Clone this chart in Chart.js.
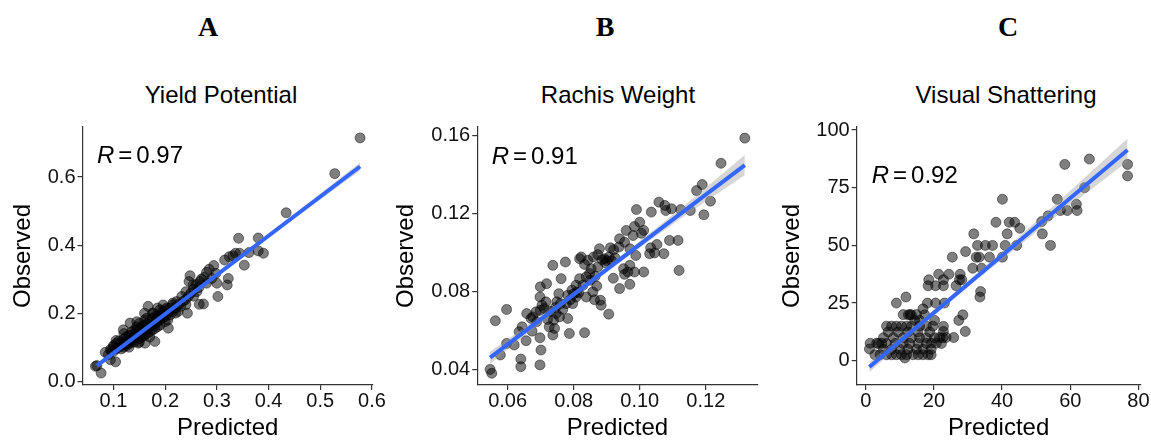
<!DOCTYPE html>
<html><head><meta charset="utf-8">
<script src="https://cdn.jsdelivr.net/npm/chart.js@4/dist/chart.umd.min.js"></script>
<style>
html,body{margin:0;padding:0;background:#fff;width:1151px;height:440px;overflow:hidden;}
.cv{position:absolute;left:0;top:0;}
.letter{position:absolute;font-family:"Liberation Serif","Times New Roman",serif;font-weight:bold;font-size:28px;line-height:28px;width:60px;text-align:center;color:#000;}
.ptitle{position:absolute;font-family:"Liberation Sans",Arial,sans-serif;font-size:24px;line-height:24px;width:300px;text-align:center;color:#000;}
</style></head><body>
<div class="letter" style="left:178px;top:12.5px">A</div>
<div class="letter" style="left:575px;top:12.5px">B</div>
<div class="letter" style="left:978px;top:12.5px">C</div>
<div class="ptitle" style="left:71px;top:83px">Yield Potential</div>
<div class="ptitle" style="left:468px;top:83px">Rachis Weight</div>
<div class="ptitle" style="left:856px;top:83px">Visual Shattering</div>
<canvas id="cA" class="cv" width="1151" height="440"></canvas>
<canvas id="cB" class="cv" width="1151" height="440"></canvas>
<canvas id="cC" class="cv" width="1151" height="440"></canvas>
<script>
// ---------- Panel A: Yield Potential ----------
const pointsA = [
[0.577,0.715],[0.528,0.610],[0.434,0.495],[0.380,0.421],[0.342,0.420],[0.390,0.376],[0.380,0.383],[0.362,0.378],[0.353,0.341],[0.344,0.376],[0.336,0.376],[0.331,0.369],[0.324,0.366],[0.315,0.356],[0.322,0.302],[0.320,0.283],[0.302,0.249],[0.300,0.288],[0.294,0.340],[0.285,0.329],[0.298,0.317],[0.290,0.302],[0.280,0.288],[0.274,0.227],[0.266,0.226],[0.261,0.263],[0.267,0.293],[0.248,0.310],[0.246,0.293],[0.254,0.283],[0.243,0.200],[0.240,0.263],[0.232,0.249],[0.222,0.234],[0.214,0.224],[0.203,0.215],[0.206,0.156],[0.190,0.210],[0.196,0.224],[0.167,0.220],[0.177,0.200],[0.184,0.185],[0.164,0.185],[0.180,0.117],[0.161,0.112],[0.148,0.112],[0.132,0.171],[0.119,0.151],[0.126,0.112],[0.106,0.112],[0.100,0.102],[0.094,0.093],[0.084,0.085],[0.094,0.063],[0.104,0.057],[0.068,0.046],[0.065,0.044],[0.076,0.024],
[0.090,0.078],[0.095,0.090],[0.100,0.088],[0.100,0.105],[0.105,0.095],[0.110,0.100],[0.110,0.118],[0.115,0.105],[0.115,0.095],[0.120,0.110],[0.120,0.125],[0.120,0.100],[0.125,0.118],[0.125,0.105],[0.130,0.120],[0.130,0.135],[0.130,0.110],[0.135,0.125],[0.135,0.145],[0.140,0.130],[0.140,0.115],[0.140,0.150],[0.145,0.135],[0.145,0.160],[0.150,0.140],[0.150,0.125],[0.150,0.155],[0.150,0.170],[0.155,0.145],[0.155,0.130],[0.160,0.150],[0.160,0.165],[0.160,0.135],[0.160,0.180],[0.165,0.155],[0.165,0.140],[0.170,0.160],[0.170,0.175],[0.170,0.145],[0.175,0.165],[0.175,0.185],[0.180,0.170],[0.180,0.155],[0.180,0.190],[0.185,0.175],[0.185,0.160],[0.190,0.180],[0.190,0.195],[0.190,0.165],[0.195,0.185],[0.195,0.205],[0.200,0.190],[0.200,0.175],[0.200,0.210],[0.205,0.200],[0.210,0.195],[0.210,0.215],[0.215,0.205],[0.220,0.215],[0.220,0.200],[0.225,0.225],[0.230,0.220],[0.235,0.235],[0.240,0.240],[0.245,0.250],[0.250,0.260],[0.255,0.270],[0.260,0.285],[0.265,0.275],[0.270,0.300],[0.275,0.305],[0.280,0.320],[0.215,0.230],[0.225,0.205],[0.205,0.180],[0.170,0.130],[0.150,0.115],[0.130,0.100],[0.240,0.225],[0.255,0.250],[0.175,0.200],[0.160,0.200],[0.145,0.175],[0.185,0.215],[0.120,0.140],[0.105,0.120],
[0.140,0.140],[0.155,0.160],[0.165,0.170],[0.175,0.150],[0.185,0.190],[0.195,0.195],[0.135,0.115],[0.145,0.150],[0.125,0.130],[0.115,0.115]
];
const fitAX = [0.068, 0.577];
const fitAY = [0.046, 0.631];
const bandAX = [0.068, 0.15, 0.25, 0.40, 0.577];
const bandAHalf = [0.006, 0.004, 0.0035, 0.006, 0.012];
const xTicksA = [0.1, 0.2, 0.3, 0.4, 0.5, 0.6];
const xLabelsA = ['0.1', '0.2', '0.3', '0.4', '0.5', '0.6'];
const yTicksA = [0, 0.2, 0.4, 0.6];
const yLabelsA = ['0.0', '0.2', '0.4', '0.6'];

// ---------- Panel B: Rachis Weight ----------
const pointsB = [
[0.1318,0.1588],[0.1246,0.1459],[0.1189,0.1350],[0.1172,0.1319],[0.1214,0.1265],[0.1194,0.1195],[0.1153,0.1217],[0.1124,0.1222],[0.1096,0.1226],[0.1076,0.1243],[0.1058,0.1260],[0.1079,0.1217],[0.1035,0.1209],[0.0990,0.1222],[0.1116,0.1064],[0.1090,0.1064],[0.1119,0.0910],[0.1073,0.0996],[0.1052,0.1043],[0.1033,0.1026],[0.1030,0.0996],[0.1012,0.1115],[0.1000,0.1157],[0.0984,0.1135],[0.0980,0.1089],[0.0959,0.1115],[0.0954,0.1055],[0.0939,0.1072],[0.0937,0.1030],[0.0921,0.1016],[0.0911,0.1026],[0.0907,0.0979],[0.0893,0.0970],[0.0878,0.1021],[0.0873,0.0991],[0.0860,0.0979],[0.0853,0.0919],[0.0886,0.0965],[0.0988,0.0987],[0.0970,0.1021],[0.0984,0.0902],[0.1012,0.0902],[0.0970,0.0936],[0.0964,0.0902],[0.0954,0.0890],[0.0970,0.0839],[0.0939,0.0817],[0.0951,0.0919],[0.0906,0.0686],[0.0833,0.0591],[0.0873,0.0928],[0.0843,0.0962],[0.0833,0.0941],[0.0823,0.0979],[0.0818,0.0970],[0.0838,0.0877],[0.0848,0.0894],[0.0828,0.0834],[0.0818,0.0868],[0.0807,0.0834],[0.0795,0.0809],[0.0782,0.0783],[0.0797,0.0740],[0.0807,0.0774],[0.0815,0.0795],[0.0838,0.0774],[0.0863,0.0760],[0.0881,0.0757],[0.0883,0.0732],[0.0858,0.0800],[0.0777,0.0740],[0.0767,0.0710],[0.0782,0.0664],[0.0757,0.0672],[0.0787,0.0587],[0.0775,0.0953],[0.0737,0.0936],[0.0762,0.0868],[0.0755,0.0791],[0.0749,0.0749],[0.0747,0.0689],[0.0739,0.0655],[0.0742,0.0613],[0.0737,0.0579],[0.0726,0.0621],[0.0721,0.0659],[0.0716,0.0749],[0.0711,0.0715],[0.0704,0.0732],[0.0699,0.0706],[0.0698,0.0774],[0.0718,0.0842],[0.0699,0.0826],[0.0686,0.0698],[0.0676,0.0672],[0.0671,0.0664],[0.0674,0.0599],[0.0698,0.0565],[0.0701,0.0502],[0.0698,0.0426],[0.0656,0.0550],[0.0644,0.0621],[0.0640,0.0456],[0.0640,0.0417],[0.0620,0.0528],[0.0597,0.0710],[0.0597,0.0536],[0.0578,0.0477],[0.0563,0.0652],[0.0547,0.0403],[0.0552,0.0383],[0.0635,0.0596],[0.0658,0.0689],[0.0688,0.0647],
[0.0850,0.0860],[0.0865,0.0880],[0.0895,0.0950],[0.0900,0.0960],[0.0915,0.0960],[0.0925,0.0975],[0.0790,0.0760],[0.0800,0.0790],[0.0810,0.0800],[0.0730,0.0700],[0.0745,0.0720],[0.0760,0.0740],[0.0920,0.0870],[0.0870,0.0830],[0.1005,0.1100],[0.1045,0.1000]
];
const fitBX = [0.0547, 0.1318];
const fitBY = [0.0463, 0.1450];
const bandBX = [0.0547, 0.070, 0.090, 0.110, 0.1318];
const bandBHalf = [0.0032, 0.0019, 0.0014, 0.0024, 0.0052];
const xTicksB = [0.06, 0.08, 0.10, 0.12];
const xLabelsB = ['0.06', '0.08', '0.10', '0.12'];
const yTicksB = [0.04, 0.08, 0.12, 0.16];
const yLabelsB = ['0.04', '0.08', '0.12', '0.16'];

// ---------- Panel C: Visual Shattering ----------
const pointsC = [
[76.8,85.1],[76.8,80.1],[65.6,87.4],[58.4,85.1],[64.2,75],[61.8,67.8],[62.0,65.1],[59.1,65.1],[57.1,65.1],[56.2,70],[53.5,62.8],[51.6,60.3],[51.8,55],[54.2,50],[45.2,57.4],[43.7,60],[42.1,60],[38.2,60],[40.1,70],[41.5,55],[40.9,50],[44.3,50],[40.1,44.9],[37.2,50],[35.1,50],[32.8,50],[31.7,55],[32.4,44.9],[33.3,44.9],[36.3,44.9],[29.3,47.3],[31.4,40.1],[34.0,40.1],[25.4,44.9],[33.7,30],[33.5,27.6],[28.5,19.9],[27.3,17.5],[29.2,12.7],[25.8,10.1],[24.4,37.5],[22.8,35.1],[22.8,32.5],[20.5,32.5],[18.5,35.1],[18.3,32.5],[21.4,37.5],[27.7,37.5],[27.5,35.1],[26.5,32.5],[28.2,35.1],[20.5,25],[23.1,25],[18.1,25],[16.8,22.5],[17.3,19.9],[11.8,27.6],[9.0,25],[13.4,19.9],[12.5,19.9],[20.2,17.5],[22.8,14.9],[22.8,12.7],[23.6,10.1],[21.7,10.1],[20.7,7.6],[19.2,7.6],
[18.3,2.6],[19.2,2.6],[16.8,2.6],[15.4,2.6],[13.9,2.6],[12.0,2.6],[10.5,2.6],[9.0,2.6],[7.6,2.6],[6.1,2.6],[4.2,2.6],[2.7,2.6],[11.5,1.2],
[1.3,7.6],[1.1,5.1],[3.2,7.6],[4.7,7.6],
[6.1,15],[7.6,15],[9.0,15],[10.5,15],[12,15],[13.4,15],[15.8,15],[17.8,15],[19.7,15],
[6.6,12.5],[9.5,12.5],[12.4,12.5],[15.3,12.5],[18.8,12.5],
[5.2,10],[8.1,10],[11,10],[13.4,10],[15.8,10],[17.8,10],[20.2,10],[22.6,10],
[3.7,7.5],[6.1,7.5],[8.6,7.5],[11,7.5],[12.9,7.5],[15.4,7.5],[17.8,7.5],[22.2,7.5],
[5.2,5],[7.6,5],[10,5],[12.4,5],[14.9,5],[16.8,5],[19.2,5],
[11,20],[13,20],[14.9,20],[14.4,17.5],[15.8,17.5]
];
const fitCX = [1.07, 76.8];
const fitCY = [-2.7, 91.3];
const bandCX = [1.07, 15, 25, 45, 60, 76.8];
const bandCHalf = [2.3, 1.5, 1.3, 2.0, 3.2, 5.0];
const xTicksC = [0, 20, 40, 60, 80];
const xLabelsC = ['0', '20', '40', '60', '80'];
const yTicksC = [0, 25, 50, 75, 100];
const yLabelsC = ['0', '25', '50', '75', '100'];

const rValues = ['0.97', '0.91', '0.92'];

const FONT = '"Liberation Sans", Arial, Helvetica, sans-serif';
const AXIS = '#333333';

const rPlugin = {
  id: 'rlabel',
  afterDraw(chart, args, opts) {
    const ctx = chart.ctx;
    const x = chart.scales.x.getPixelForValue(opts.x);
    const y = chart.scales.y.getPixelForValue(opts.y);
    ctx.save();
    ctx.fillStyle = '#000';
    ctx.textBaseline = 'alphabetic';
    ctx.textAlign = 'left';
    ctx.font = 'italic 24px ' + FONT;
    ctx.fillText('R', x, y);
    let w = ctx.measureText('R').width + 4;
    ctx.font = '24px ' + FONT;
    ctx.fillText('=', x + w, y);
    w += ctx.measureText('=').width + 4;
    ctx.fillText(opts.value, x + w, y);
    ctx.restore();
  }
};

function lineAt(fx, fy, x) {
  return fy[0] + (x - fx[0]) * (fy[1] - fy[0]) / (fx[1] - fx[0]);
}

function makePanel(cfg) {
  const pts = cfg.points.map(p => ({x: p[0], y: p[1]}));
  const upper = cfg.bandX.map((x, i) => ({x: x, y: lineAt(cfg.fitX, cfg.fitY, x) + cfg.bandHalf[i]}));
  const lower = cfg.bandX.map((x, i) => ({x: x, y: lineAt(cfg.fitX, cfg.fitY, x) - cfg.bandHalf[i]}));
  const fit = cfg.fitX.map((x, i) => ({x: x, y: cfg.fitY[i]}));
  new Chart(document.getElementById(cfg.id), {
    type: 'scatter',
    data: {
      datasets: [
        {type: 'scatter', data: pts, pointRadius: 5, pointHoverRadius: 5,
         pointBackgroundColor: 'rgba(0,0,0,0.5)', pointBorderColor: 'rgba(0,0,0,0.45)', pointBorderWidth: 1, order: 3},
        {type: 'line', data: upper, borderWidth: 0, borderColor: 'rgba(0,0,0,0)', pointRadius: 0, fill: false, order: 2, tension: 0.4},
        {type: 'line', data: lower, borderWidth: 0, borderColor: 'rgba(0,0,0,0)', pointRadius: 0, fill: 1,
         backgroundColor: 'rgba(153,153,153,0.4)', order: 2, tension: 0.4},
        {type: 'line', data: fit, borderColor: '#3366FF', borderWidth: 4, pointRadius: 0, fill: false, order: 1}
      ]
    },
    options: {
      responsive: false, animation: false, devicePixelRatio: 1, events: [],
      layout: {padding: {left: cfg.area.left - cfg.yW, right: 1151 - cfg.area.right, top: cfg.area.top, bottom: 0}},
      plugins: {legend: {display: false}, tooltip: {enabled: false},
                rlabel: {x: cfg.rx, y: cfg.ry, value: cfg.r}},
      scales: {
        x: {
          type: 'linear', min: cfg.xMin, max: cfg.xMax,
          afterBuildTicks: s => { s.ticks = cfg.xTicks.map(v => ({value: v})); },
          afterFit: s => { s.height = 440 - cfg.area.bottom; s.paddingLeft = 0; s.paddingRight = 0; },
          ticks: {callback: (v, i) => cfg.xLabels[i], color: '#111', font: {family: FONT, size: 20, lineHeight: 1},
                  padding: 1, maxRotation: 0, autoSkip: false},
          grid: {display: true, drawOnChartArea: false, drawTicks: true, tickLength: 5, color: AXIS, lineWidth: 1.2},
          border: {display: true, color: AXIS, width: 1.2},
          title: {display: true, text: 'Predicted', color: '#000', font: {family: FONT, size: 24, lineHeight: 1}, padding: 0}
        },
        y: {
          type: 'linear', min: cfg.yMin, max: cfg.yMax,
          afterBuildTicks: s => { s.ticks = cfg.yTicks.map(v => ({value: v})); },
          afterFit: s => { s.width = cfg.yW; s.paddingTop = 0; s.paddingBottom = 0; },
          ticks: {callback: (v, i) => cfg.yLabels[i], color: '#111', font: {family: FONT, size: 20, lineHeight: 1},
                  padding: 2, autoSkip: false},
          grid: {display: true, drawOnChartArea: false, drawTicks: true, tickLength: 5, color: AXIS, lineWidth: 1.2},
          border: {display: true, color: AXIS, width: 1.2},
          title: {display: true, text: 'Observed', color: '#000', font: {family: FONT, size: 24, lineHeight: 1}, padding: 0}
        }
      }
    },
    plugins: [rPlugin]
  });
}

makePanel({id: 'cA', points: pointsA, fitX: fitAX, fitY: fitAY, bandX: bandAX, bandHalf: bandAHalf,
  xTicks: xTicksA, xLabels: xLabelsA, yTicks: yTicksA, yLabels: yLabelsA,
  xMin: 0.040, xMax: 0.602, yMin: -0.011, yMax: 0.747,
  area: {left: 82.5, right: 373, top: 127, bottom: 385}, yW: 71.5,
  rx: 0.068, ry: 0.640, r: rValues[0]});
makePanel({id: 'cB', points: pointsB, fitX: fitBX, fitY: fitBY, bandX: bandBX, bandHalf: bandBHalf,
  xTicks: xTicksB, xLabels: xLabelsB, yTicks: yTicksB, yLabels: yLabelsB,
  xMin: 0.0508, xMax: 0.1357, yMin: 0.0323, yMax: 0.1645,
  area: {left: 477.2, right: 757.7, top: 127, bottom: 385}, yW: 82.5,
  rx: 0.0552, ry: 0.1456, r: rValues[1]});
makePanel({id: 'cC', points: pointsC, fitX: fitCX, fitY: fitCY, bandX: bandCX, bandHalf: bandCHalf,
  xTicks: xTicksC, xLabels: xLabelsC, yTicks: yTicksC, yLabels: yLabelsC,
  xMin: -2.64, xMax: 80.6, yMin: -10.5, yMax: 101.3,
  area: {left: 856.7, right: 1140.5, top: 127, bottom: 385}, yW: 76.2,
  rx: 1.77, ry: 77.2, r: rValues[2]});
</script>
</body></html>
